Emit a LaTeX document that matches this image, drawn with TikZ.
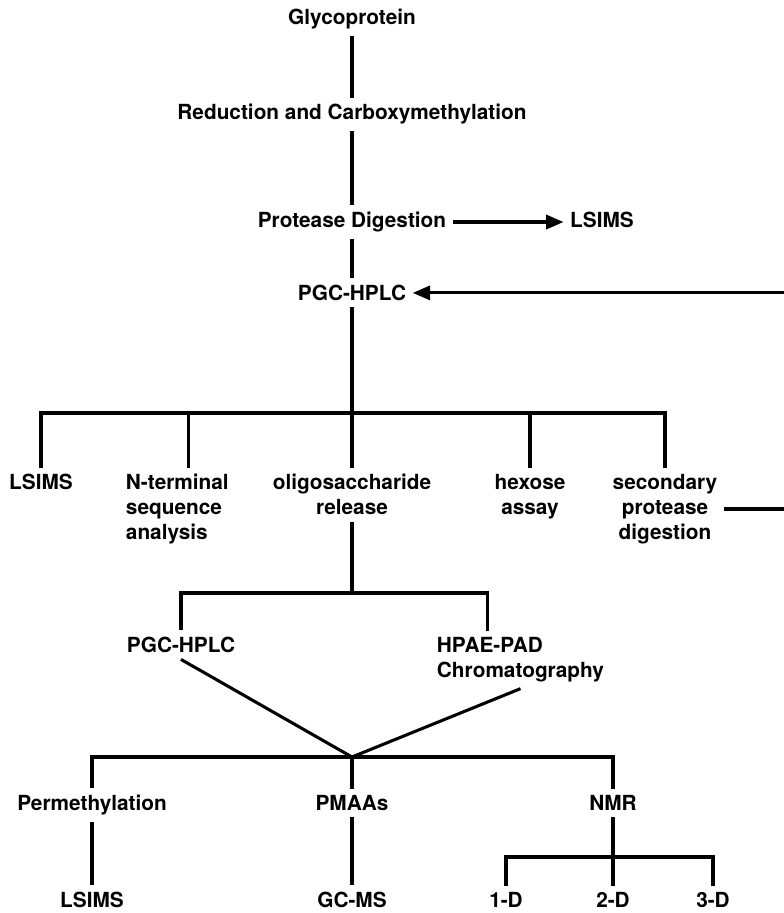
\documentclass[tikz,border=0pt]{standalone}
\usepackage{fontspec}
\setmainfont{TeX Gyre Heros}
\usetikzlibrary{arrows.meta}

\begin{document}
\begin{tikzpicture}[x=0.75pt,y=-0.75pt,
  lbl/.style={font=\fontsize{15.6}{18.75}\selectfont\bfseries,inner sep=2pt,outer sep=3pt},
  ln/.style={line width=2.3pt},
  arr/.style={line width=2.3pt,-{Triangle[length=13pt,width=10.5pt]}}]
  \useasboundingbox (0,0) rectangle (784,913);
  \node[lbl,anchor=base] (glyco) at (352,25) {Glycoprotein};
  \node[lbl,anchor=base] (red) at (352,120) {Reduction and Carboxymethylation};
  \node[lbl,anchor=base] (prot) at (352,227.5) {Protease Digestion};
  \node[lbl,anchor=base] (lsimsA) at (602,227.5) {LSIMS};
  \node[lbl,anchor=base] (pgcA) at (352,300.5) {PGC-HPLC};
  \node[lbl,anchor=north] (lsimsB) at (41,467.5) {LSIMS};
  \node[lbl,anchor=north west,align=left] (nterm) at (119.3,467.5) {N-terminal\\sequence\\analysis};
  \node[lbl,anchor=north,align=center] (oligo) at (352,467.5) {oligosaccharide\\release};
  \node[lbl,anchor=north,align=center] (hexose) at (530,467.5) {hexose\\assay};
  \node[lbl,anchor=north,align=center] (secd) at (665,467.5) {secondary\\protease\\digestion};
  \node[lbl,anchor=base] (pgcB) at (181,652.5) {PGC-HPLC};
  \node[lbl,anchor=north west,align=left] (hpae) at (430.3,630.6) {HPAE-PAD\\Chromatography};
  \node[lbl,anchor=base] (perm) at (92,810.5) {Permethylation};
  \node[lbl,anchor=base] (pmaa) at (352,810.5) {PMAAs};
  \node[lbl,anchor=base] (nmr) at (613,810.5) {NMR};
  \node[lbl,anchor=base] (lsimsC) at (92,907.5) {LSIMS};
  \node[lbl,anchor=base] (gcms) at (352,907.5) {GC-MS};
  \node[lbl,anchor=base] (oneD) at (506,907.5) {1-D};
  \node[lbl,anchor=base] (twoD) at (613,907.5) {2-D};
  \node[lbl,anchor=base] (threeD) at (713,907.5) {3-D};
  \coordinate (b1) at (352,413);
  \coordinate (b2) at (352,593);
  \coordinate (b3) at (352,757);
  \coordinate (b4) at (613,857);
  \coordinate (rim) at (784,0);
  \draw[ln] (glyco.south) -- (red.north);
  \draw[ln] (red.south) -- (prot.north);
  \draw[ln] (prot.south) -- (pgcA.north);
  \draw[arr] (prot.east) -- (prot.east -| lsimsA.west);
  \draw[arr] (pgcA.east -| rim) -- (pgcA.east);
  \draw[ln] (secd.east) -- (secd.east -| rim);
  \draw[ln] (pgcA.south) -- (b1) -- (oligo.north);
  \draw[ln] (lsimsB.north) -- (lsimsB.north |- b1) -- (secd.north |- b1) -- (secd.north);
  \draw[ln] ([xshift=8.6pt]nterm.north) -- ([xshift=8.6pt]nterm.north |- b1);
  \draw[ln] (hexose.north) -- (hexose.north |- b1);
  \draw[ln] (oligo.south) -- (b2);
  \draw[ln] (pgcB.north) -- (pgcB.north |- b2) -- ([xshift=-24.75pt]hpae.north |- b2) -- ([xshift=-24.75pt]hpae.north);
  \draw[ln] (pgcB.south) -- (b3) -- (hpae.south);
  \draw[ln] (perm.north) -- (perm.north |- b3) -- (nmr.north |- b3) -- (nmr.north);
  \draw[ln] (b3) -- (pmaa.north);
  \draw[ln] (perm.south) -- (lsimsC.north);
  \draw[ln] (pmaa.south) -- (gcms.north);
  \draw[ln] (nmr.south) -- (b4);
  \draw[ln] (oneD.north) -- (oneD.north |- b4) -- (threeD.north |- b4) -- (threeD.north);
  \draw[ln] (b4) -- (twoD.north);
\end{tikzpicture}
\end{document}
